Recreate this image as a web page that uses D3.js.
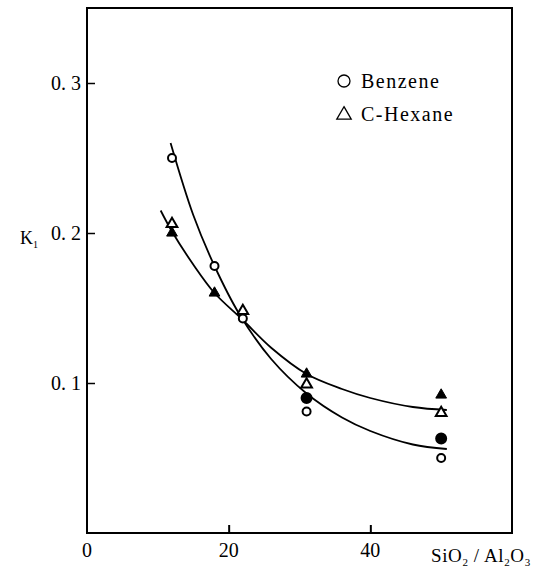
<!DOCTYPE html>
<html>
<head>
<meta charset="utf-8">
<script src="https://cdn.jsdelivr.net/npm/d3@7"></script>
<style>
  body { margin: 0; background: #fff; }
  text { font-family: "Liberation Serif", "DejaVu Serif", serif; fill: #000; }
</style>
</head>
<body>
<script>
// measured points
var benzeneX = [12, 18, 22, 31, 50];
var benzeneY = [0.25, 0.178, 0.143, 0.081, 0.05];
var benzeneFilledX = [31, 50];
var benzeneFilledY = [0.09, 0.063];
var hexaneX = [12, 22, 31, 50];
var hexaneY = [0.206, 0.148, 0.099, 0.08];
var hexaneFilledX = [12, 18, 31, 50];
var hexaneFilledY = [0.2, 0.16, 0.106, 0.092];

// fitted curves
var benzeneFitX = [11.8, 15, 18, 21.5, 26, 31, 36, 40, 46, 50.8];
var benzeneFitY = [0.26, 0.212, 0.178, 0.146, 0.116, 0.093, 0.077, 0.068, 0.059, 0.056];
var hexaneFitX = [10.4, 12, 15, 18, 22, 26, 31, 36, 40, 46, 50.8];
var hexaneFitY = [0.215, 0.201, 0.179, 0.16, 0.142, 0.1235, 0.106, 0.096, 0.09, 0.084, 0.082];

var xTicks = [0, 20, 40];
var yTicks = [0.1, 0.2, 0.3];
var yTickLabels = ["0. 1", "0. 2", "0. 3"];

var svg = d3.select("body")
  .append("svg")
  .attr("width", 542)
  .attr("height", 573);

var x = d3.scaleLinear().domain([0, 60]).range([87, 512]);
var y = d3.scaleLinear().domain([0, 0.35]).range([533, 8]);

// frame
svg.append("rect")
  .attr("x", x(0))
  .attr("y", y(0.35))
  .attr("width", x(60) - x(0))
  .attr("height", y(0) - y(0.35))
  .style("fill", "none")
  .style("stroke", "#000")
  .style("stroke-width", 2);

// ticks point inward
var xAxis = svg.append("g")
  .attr("transform", "translate(0," + y(0) + ")")
  .call(d3.axisTop(x).tickValues(xTicks.slice(1)).tickSize(8).tickFormat(""));
xAxis.select(".domain").remove();
xAxis.selectAll("line").style("stroke-width", 2);

var yAxis = svg.append("g")
  .attr("transform", "translate(" + x(0) + ",0)")
  .call(d3.axisRight(y).tickValues(yTicks).tickSize(8).tickFormat(""));
yAxis.select(".domain").remove();
yAxis.selectAll("line").style("stroke-width", 1.5);

svg.selectAll(".xlab")
  .data(xTicks)
  .enter().append("text")
  .attr("x", function(d) { return x(d); })
  .attr("y", 557)
  .attr("text-anchor", "middle")
  .style("font-size", "20px")
  .text(function(d) { return d; });

svg.selectAll(".ylab")
  .data(yTicks)
  .enter().append("text")
  .attr("x", x(0) - 6)
  .attr("y", function(d) { return y(d) + 7; })
  .attr("text-anchor", "end")
  .style("font-size", "20px")
  .text(function(d, i) { return yTickLabels[i]; });

// axis titles
var k = svg.append("text").attr("x", 20).attr("y", 244).style("font-size", "18px");
k.append("tspan").text("K");
k.append("tspan").attr("dy", 4).style("font-size", "10px").text("1");

var t = svg.append("text").attr("x", 431).attr("y", 562)
  .style("font-size", "19px").style("letter-spacing", "0.6px");
t.append("tspan").text("SiO");
t.append("tspan").attr("dy", 4).style("font-size", "11px").text("2");
t.append("tspan").attr("dy", -4).text(" / Al");
t.append("tspan").attr("dy", 4).style("font-size", "11px").text("2");
t.append("tspan").attr("dy", -4).text("O");
t.append("tspan").attr("dy", 4).style("font-size", "11px").text("3");

// curves
var line = d3.line()
  .x(function(d) { return x(d[0]); })
  .y(function(d) { return y(d[1]); })
  .curve(d3.curveCatmullRom);

svg.append("path")
  .attr("d", line(d3.zip(benzeneFitX, benzeneFitY)))
  .style("fill", "none")
  .style("stroke", "#000")
  .style("stroke-width", 1.8);

svg.append("path")
  .attr("d", line(d3.zip(hexaneFitX, hexaneFitY)))
  .style("fill", "none")
  .style("stroke", "#000")
  .style("stroke-width", 1.8);

// markers
var tri = d3.symbol().type(d3.symbolTriangle).size(50);

function circles(xs, ys, filled) {
  svg.selectAll(null)
    .data(d3.zip(xs, ys))
    .enter().append("circle")
    .attr("cx", function(d) { return x(d[0]); })
    .attr("cy", function(d) { return y(d[1]); })
    .attr("r", filled ? 5 : 4)
    .style("fill", filled ? "#000" : "#fff")
    .style("stroke", "#000")
    .style("stroke-width", 2);
}

function triangles(xs, ys, filled) {
  svg.selectAll(null)
    .data(d3.zip(xs, ys))
    .enter().append("path")
    .attr("d", tri)
    .attr("transform", function(d) { return "translate(" + x(d[0]) + "," + y(d[1]) + ")"; })
    .style("fill", filled ? "#000" : "#fff")
    .style("stroke", "#000")
    .style("stroke-width", filled ? 1 : 2);
}

circles(benzeneX, benzeneY, false);
circles(benzeneFilledX, benzeneFilledY, true);
triangles(hexaneX, hexaneY, false);
triangles(hexaneFilledX, hexaneFilledY, true);

// legend
svg.append("circle")
  .attr("cx", 344).attr("cy", 81).attr("r", 6)
  .style("fill", "none").style("stroke", "#000").style("stroke-width", 1.3);
svg.append("text").attr("x", 361).attr("y", 88)
  .style("font-size", "20px").style("letter-spacing", "1.5px").text("Benzene");

svg.append("path")
  .attr("d", d3.symbol().type(d3.symbolTriangle).size(90))
  .attr("transform", "translate(344,115)")
  .style("fill", "none").style("stroke", "#000").style("stroke-width", 1.3);
svg.append("text").attr("x", 361).attr("y", 121)
  .style("font-size", "20px").style("letter-spacing", "1.5px").text("C-Hexane");
</script>
</body>
</html>
